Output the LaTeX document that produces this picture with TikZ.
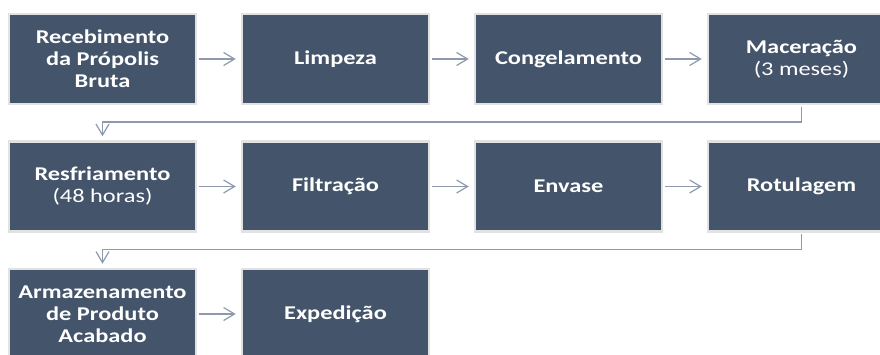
\documentclass[tikz,border=0pt]{standalone}
\usepackage{fontspec}
\setmainfont[FakeStretch=1.25]{Carlito}
\usetikzlibrary{arrows.meta}
\definecolor{boxfill}{HTML}{44546A}
\definecolor{boxedge}{HTML}{E2E2E2}
\definecolor{conn}{HTML}{8E9AAC}
\tikzset{
  stepbox/.style={rectangle, fill=boxfill, draw=boxedge, line width=2.5pt,
    minimum width=187pt, minimum height=90pt, inner sep=0pt,
    text=white, align=center, font=\fontsize{19.5}{22}\selectfont\bfseries},
  flow/.style={draw=conn, line width=1.2pt, -{Straight Barb[length=11pt,width=13pt,line width=1.2pt]}}
}
\begin{document}
\begin{tikzpicture}[x=1pt,y=1pt]
\useasboundingbox (0,0) rectangle (880,354);
\node[stepbox] (a1) at (102.5,295) {Recebimento\\da Própolis\\Bruta};
\node[stepbox] (a2) at (335.5,295) {Limpeza};
\node[stepbox] (a3) at (568.5,295) {Congelamento};
\node[stepbox] (a4) at (801.5,295) {Maceração\\{\mdseries(3 meses)}};
\node[stepbox] (b1) at (102.5,167.5) {Resfriamento\\{\mdseries(48 horas)}};
\node[stepbox] (b2) at (335.5,167.5) {Filtração};
\node[stepbox] (b3) at (568.5,167.5) {Envase};
\node[stepbox] (b4) at (801.5,167.5) {Rotulagem};
\node[stepbox] (c1) at (102.5,40) {Armazenamento\\de Produto\\Acabado};
\node[stepbox] (c2) at (335.5,40) {Expedição};
\draw[flow, shorten <=1.5pt, shorten >=5pt] (a1) -- (a2);
\draw[flow, shorten <=1.5pt, shorten >=5pt] (a2) -- (a3);
\draw[flow, shorten <=1.5pt, shorten >=5pt] (a3) -- (a4);
\draw[flow, shorten <=1.5pt, shorten >=5pt] (b1) -- (b2);
\draw[flow, shorten <=1.5pt, shorten >=5pt] (b2) -- (b3);
\draw[flow, shorten <=1.5pt, shorten >=5pt] (b3) -- (b4);
\draw[flow, shorten <=1.5pt, shorten >=5pt] (c1) -- (c2);
\coordinate (k1) at (801.5,232);
\coordinate (k2) at (102.5,232);
\draw[flow, shorten <=1.5pt, shorten >=4pt] (a4.south) -- (k1) -- (k2) -- (b1.north);
\coordinate (m1) at (801.5,104.5);
\coordinate (m2) at (102.5,104.5);
\draw[flow, shorten <=1.5pt, shorten >=4pt] (b4.south) -- (m1) -- (m2) -- (c1.north);
\end{tikzpicture}
\end{document}
